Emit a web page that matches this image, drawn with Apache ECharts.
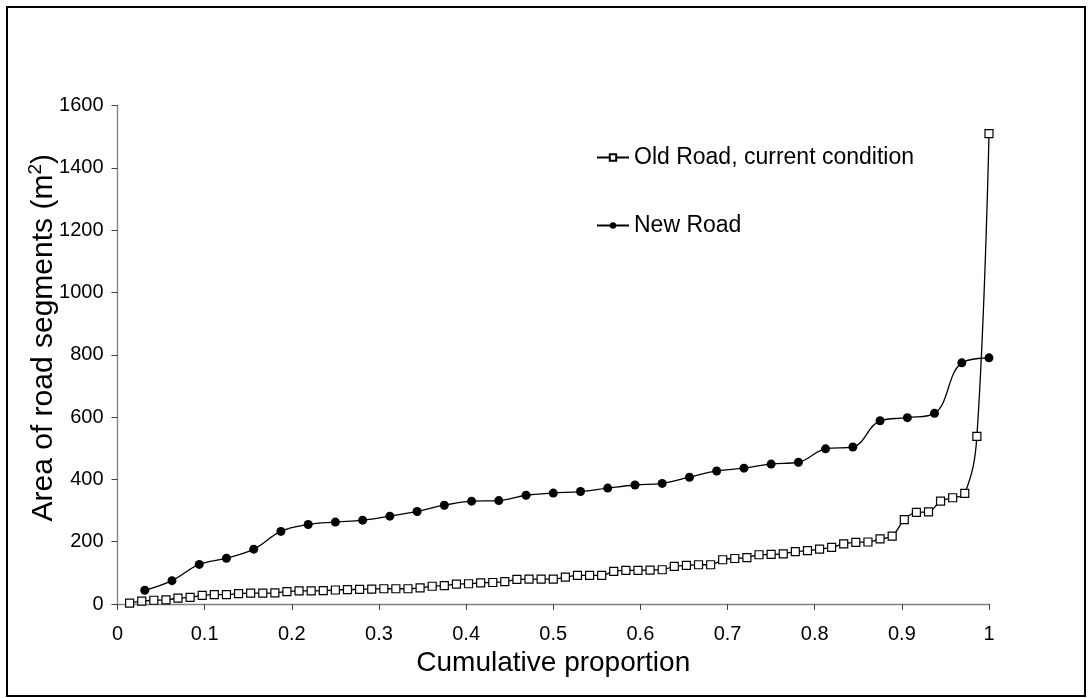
<!DOCTYPE html>
<html>
<head>
<meta charset="utf-8">
<script src="https://cdn.jsdelivr.net/npm/echarts@6/dist/echarts.min.js"></script>
<style>html,body{margin:0;padding:0;background:#fff}#c{width:1089px;height:698px}</style>
</head>
<body>
<div id="c"></div>
<script>
const xTicks = ['0','0.1','0.2','0.3','0.4','0.5','0.6','0.7','0.8','0.9','1'];
const yTicks = [0,200,400,600,800,1000,1200,1400,1600];
const oldName = 'Old Road, current condition';
const newName = 'New Road';
const oldX = [0.0139,0.0278,0.0417,0.0556,0.0694,0.0833,0.0972,0.1111,0.125,0.1389,0.1528,0.1667,0.1806,0.1944,0.2083,0.2222,0.2361,0.25,0.2639,0.2778,0.2917,0.3056,0.3194,0.3333,0.3472,0.3611,0.375,0.3889,0.4028,0.4167,0.4306,0.4444,0.4583,0.4722,0.4861,0.5,0.5139,0.5278,0.5417,0.5556,0.5694,0.5833,0.5972,0.6111,0.625,0.6389,0.6528,0.6667,0.6806,0.6944,0.7083,0.7222,0.7361,0.75,0.7639,0.7778,0.7917,0.8056,0.8194,0.8333,0.8472,0.8611,0.875,0.8889,0.9028,0.9167,0.9306,0.9444,0.9583,0.9722,0.9861,1];
const oldY = [3,9,12,13,19,21,28,30,30,33,35,35,36,40,42,42,43,45,46,47,48,49,49,49,52,57,59,64,65,68,69,72,79,80,80,80,86,92,92,92,105,108,108,109,110,121,124,126,126,142,146,149,158,159,161,168,171,176,182,193,198,199,209,218,271,294,296,330,341,355,538,1510];
const newX = [0.0313,0.0625,0.0938,0.125,0.1563,0.1875,0.2188,0.25,0.2813,0.3125,0.3438,0.375,0.4063,0.4375,0.4688,0.5,0.5313,0.5625,0.5938,0.625,0.6563,0.6875,0.7188,0.75,0.7813,0.8125,0.8438,0.875,0.9063,0.9375,0.9688,1];
const newY = [44,75,127,147,176,233,255,263,269,282,297,317,330,332,349,356,361,372,382,387,407,427,436,449,455,498,504,588,598,612,774,790];

const pair = (xs, ys) => xs.map((x, i) => [x, ys[i]]);
const font = 'Arial, "Liberation Sans", sans-serif';
const chart = echarts.init(document.getElementById('c'), null, {renderer: 'canvas'});
chart.setOption({
  animation: false,
  backgroundColor: '#fff',
  textStyle: {fontFamily: font, color: '#000'},
  graphic: [{
    type: 'rect', shape: {x: 7, y: 7, width: 1078, height: 689},
    style: {fill: 'none', stroke: '#000', lineWidth: 2}, silent: true
  }],
  grid: {left: 117.5, right: 100, top: 105.5, bottom: 94, containLabel: false},
  legend: {
    orient: 'vertical', left: 591, top: 141, itemGap: 45,
    itemWidth: 32, itemHeight: 8,
    textStyle: {fontFamily: font, fontSize: 23, color: '#000'},
    data: [oldName, newName]
  },
  xAxis: {
    type: 'value', min: 0, max: 1, interval: 0.1,
    name: 'Cumulative proportion', nameLocation: 'middle', nameGap: 44,
    nameTextStyle: {fontFamily: font, fontSize: 28, color: '#000'},
    axisLine: {show: true, onZero: false, lineStyle: {color: '#808080', width: 1.3}},
    axisTick: {show: true, length: 6, inside: false, lineStyle: {color: '#404040'}},
    axisLabel: {fontFamily: font, fontSize: 20, color: '#000', margin: 20,
      formatter: v => xTicks[Math.round(v * 10)]},
    splitLine: {show: false}
  },
  yAxis: {
    type: 'value', min: 0, max: 1600, interval: 200,
    name: '{a|Area of road segments (m}{s|2}{a|)}', nameLocation: 'middle', nameGap: 57, nameRotate: 90,
    nameMoveOverlap: false,
    nameTextStyle: {fontFamily: font, fontSize: 30, color: '#000', padding: [0, 0, 0, 34],
      rich: {
        a: {fontFamily: font, fontSize: 30, color: '#000', lineHeight: 34},
        s: {fontFamily: font, fontSize: 19, color: '#000', verticalAlign: 'top', lineHeight: 34, padding: [0, 0, 16, 0]}
      }},
    axisLine: {show: true, onZero: false, lineStyle: {color: '#808080', width: 1.3}},
    axisTick: {show: true, length: 6, inside: false, lineStyle: {color: '#404040'}},
    axisLabel: {fontFamily: font, fontSize: 20, color: '#000', margin: 14,
      formatter: v => String(yTicks[Math.round(v / 200)])},
    splitLine: {show: false}
  },
  series: [
    {
      name: oldName, type: 'line', data: pair(oldX, oldY), smooth: 0.4,
      symbol: 'rect', symbolSize: 8,
      itemStyle: {color: '#fff', borderColor: '#000', borderWidth: 1.2},
      lineStyle: {color: '#000', width: 1.3}, z: 3
    },
    {
      name: newName, type: 'line', data: pair(newX, newY), smooth: 0.4,
      symbol: 'circle', symbolSize: 9,
      itemStyle: {color: '#000', borderColor: '#000', borderWidth: 0},
      lineStyle: {color: '#000', width: 1.3}, z: 4
    }
  ]
});
</script>
</body>
</html>
